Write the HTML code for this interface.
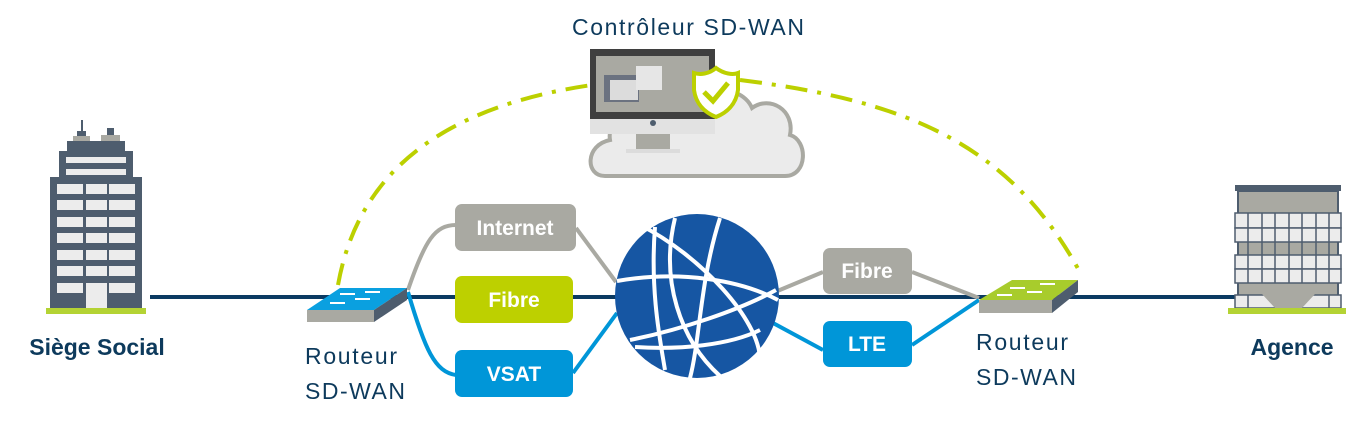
<!DOCTYPE html>
<html><head><meta charset="utf-8"><style>
html,body{margin:0;padding:0;background:#fff;width:1356px;height:426px;overflow:hidden}
svg{display:block}
text{font-family:"Liberation Sans","DejaVu Sans",sans-serif}
</style></head><body>
<svg width="1356" height="426" viewBox="0 0 1356 426">
<path d="M338,285 C355,190 420,110 592,85" fill="none" stroke="#bcd000" stroke-width="4" stroke-dasharray="22,10,4,10"/>
<path d="M740,80 C900,100 1010,140 1082,276" fill="none" stroke="#bcd000" stroke-width="4" stroke-dasharray="22,10,4,10"/>
<line x1="150" y1="297" x2="1236" y2="297" stroke="#0b3a62" stroke-width="4"/>
<path d="M408,290 C425,240 435,225 456,225" fill="none" stroke="#a9a9a2" stroke-width="4"/>
<path d="M408,292 C425,350 435,372 456,375" fill="none" stroke="#0096d8" stroke-width="4"/>
<line x1="576" y1="228" x2="616" y2="282" stroke="#a9a9a2" stroke-width="4"/>
<line x1="573" y1="373" x2="617" y2="313" stroke="#0096d8" stroke-width="4"/>
<line x1="775" y1="292" x2="823" y2="272" stroke="#a9a9a2" stroke-width="4"/>
<line x1="773" y1="323" x2="823" y2="350" stroke="#0096d8" stroke-width="4"/>
<line x1="912" y1="272" x2="979" y2="298" stroke="#a9a9a2" stroke-width="4"/>
<line x1="912" y1="345" x2="979" y2="300" stroke="#0096d8" stroke-width="4"/>
<rect x="455" y="204" width="121" height="47" rx="7" fill="#a9a9a2"/>
<text x="515" y="235" text-anchor="middle" font-size="21" font-weight="bold" fill="#fff">Internet</text>
<rect x="455" y="276" width="118" height="47" rx="7" fill="#bdd000"/>
<text x="514" y="307" text-anchor="middle" font-size="21" font-weight="bold" fill="#fff">Fibre</text>
<rect x="455" y="350" width="118" height="47" rx="7" fill="#0096d8"/>
<text x="514" y="381" text-anchor="middle" font-size="21" font-weight="bold" fill="#fff">VSAT</text>
<rect x="823" y="248" width="89" height="46" rx="7" fill="#a9a9a2"/>
<text x="867" y="278" text-anchor="middle" font-size="21" font-weight="bold" fill="#fff">Fibre</text>
<rect x="823" y="321" width="89" height="46" rx="7" fill="#0096d8"/>
<text x="867" y="351" text-anchor="middle" font-size="21" font-weight="bold" fill="#fff">LTE</text>
<circle cx="697" cy="296" r="82" fill="#1656a3"/>
<g fill="none" stroke="#fff" stroke-width="4">
<path d="M617,281 C680,270 740,280 778,300"/>
<path d="M640,225 C700,255 760,320 760,360"/>
<path d="M675,218 C660,280 680,340 720,376"/>
<path d="M655,227 C650,290 660,340 665,370"/>
<path d="M720,218 C700,280 700,340 690,378"/>
<path d="M630,340 C680,330 740,310 776,290"/>
<path d="M635,347 C680,350 730,345 760,330"/>
</g>
<rect x="81" y="120" width="2" height="20" fill="#4e5d6e"/>
<rect x="77" y="131" width="9" height="6" fill="#4e5d6e"/>
<rect x="107" y="128" width="7" height="8" fill="#4e5d6e"/>
<rect x="73" y="136" width="17" height="6" fill="#a9a9a2"/>
<rect x="101" y="135" width="19" height="7" fill="#a9a9a2"/>
<rect x="67" y="141" width="58" height="11" fill="#4e5d6e"/>
<rect x="59" y="151" width="74" height="27" fill="#4e5d6e"/>
<rect x="66" y="157" width="60" height="6" fill="#ececec"/>
<rect x="66" y="169" width="60" height="6" fill="#ececec"/>
<rect x="50" y="177" width="92" height="131" fill="#4e5d6e"/>
<g fill="#ececec">
<rect x="57" y="184" width="26" height="10"/><rect x="86" y="184" width="21" height="10"/><rect x="109" y="184" width="26" height="10"/>
<rect x="57" y="200" width="26" height="10"/><rect x="86" y="200" width="21" height="10"/><rect x="109" y="200" width="26" height="10"/>
<rect x="57" y="217" width="26" height="10"/><rect x="86" y="217" width="21" height="10"/><rect x="109" y="217" width="26" height="10"/>
<rect x="57" y="233" width="26" height="10"/><rect x="86" y="233" width="21" height="10"/><rect x="109" y="233" width="26" height="10"/>
<rect x="57" y="250" width="26" height="10"/><rect x="86" y="250" width="21" height="10"/><rect x="109" y="250" width="26" height="10"/>
<rect x="57" y="266" width="26" height="10"/><rect x="86" y="266" width="21" height="10"/><rect x="109" y="266" width="26" height="10"/>
<rect x="57" y="283" width="26" height="10"/><rect x="86" y="283" width="21" height="25"/><rect x="109" y="283" width="26" height="10"/>
</g>
<rect x="46" y="308" width="100" height="6" fill="#b4d334"/>
<text x="97" y="355" text-anchor="middle" font-size="23" font-weight="bold" fill="#0d3a5c">Siège Social</text>
<polygon points="307,310 340,288 407,288 374,310" fill="#0aa0e0"/>
<polygon points="307,310 374,310 374,322 307,322" fill="#a9a9a2"/>
<polygon points="374,310 407,288 407,300 374,322" fill="#4e5d6e"/>
<g stroke="#fff" stroke-width="2"><line x1="330" y1="303" x2="345" y2="303"/><line x1="355" y1="299" x2="370" y2="299"/><line x1="340" y1="294" x2="355" y2="294"/><line x1="365" y1="292" x2="380" y2="292"/></g>
<text x="305" y="364" font-size="23" fill="#0d3a5c" textLength="92">Routeur</text>
<text x="305" y="399" font-size="23" fill="#0d3a5c" textLength="100">SD-WAN</text>
<polygon points="979,300 1012,280 1078,280 1052,300" fill="#a8cc2c"/>
<polygon points="979,300 1052,300 1052,313 979,313" fill="#a9a9a2"/>
<polygon points="1052,300 1078,280 1078,292 1052,313" fill="#4e5d6e"/>
<g stroke="#fff" stroke-width="2"><line x1="997" y1="295" x2="1012" y2="295"/><line x1="1027" y1="292" x2="1042" y2="292"/><line x1="1010" y1="288" x2="1025" y2="288"/><line x1="1040" y1="284" x2="1055" y2="284"/></g>
<text x="976" y="350" font-size="23" fill="#0d3a5c" textLength="92">Routeur</text>
<text x="976" y="385" font-size="23" fill="#0d3a5c" textLength="100">SD-WAN</text>
<rect x="1235" y="185" width="106" height="6" fill="#4e5d6e"/>
<rect x="1238" y="191" width="100" height="117" fill="#a9a9a2" stroke="#4e5d6e" stroke-width="2"/>
<g fill="#ececec" stroke="#4e5d6e" stroke-width="1.5">
<rect x="1235" y="213" width="106" height="15"/><rect x="1235" y="228" width="106" height="14"/>
<rect x="1235" y="255" width="106" height="14"/><rect x="1235" y="269" width="106" height="14"/>
<rect x="1235" y="295" width="106" height="13"/>
</g>
<g stroke="#4e5d6e" stroke-width="1.5">
<line x1="1248" y1="213" x2="1248" y2="283"/><line x1="1262" y1="213" x2="1262" y2="283"/><line x1="1275" y1="213" x2="1275" y2="283"/><line x1="1289" y1="213" x2="1289" y2="283"/><line x1="1302" y1="213" x2="1302" y2="283"/><line x1="1316" y1="213" x2="1316" y2="283"/><line x1="1329" y1="213" x2="1329" y2="283"/>
<line x1="1248" y1="295" x2="1248" y2="308"/><line x1="1329" y1="295" x2="1329" y2="308"/>
</g>
<polygon points="1262,294 1315,294 1302,308 1275,308" fill="#a9a9a2"/>
<rect x="1228" y="308" width="118" height="6" fill="#b4d334"/>
<text x="1292" y="355" text-anchor="middle" font-size="23" font-weight="bold" fill="#0d3a5c">Agence</text>
<text x="688" y="35" text-anchor="middle" font-size="23" fill="#0d3a5c" textLength="232">Contrôleur SD-WAN</text>
<path d="M605,176 C585,176 585,145 610,140 C606,115 640,100 665,112 C680,82 740,80 752,108 C770,95 795,110 790,135 C808,140 808,176 785,176 Z" fill="#ebebeb" stroke="#a9a9a2" stroke-width="4"/>
<rect x="590" y="49" width="125" height="70" fill="#3f3f3f"/>
<rect x="596" y="56" width="113" height="56" fill="#a9a9a2"/>
<rect x="604" y="75" width="35" height="27" fill="#6b7280"/>
<rect x="610" y="80" width="28" height="20" fill="#dcdcdc"/>
<rect x="636" y="66" width="26" height="24" fill="#e6e6e6"/>
<rect x="590" y="119" width="125" height="15" fill="#e2e2e2"/>
<circle cx="653" cy="123" r="3" fill="#4e5d6e"/>
<rect x="636" y="134" width="34" height="15" fill="#a9a9a2"/>
<rect x="626" y="149" width="54" height="4" fill="#dcdcdc"/>
<path d="M716,68 C724,74 733,75 738,73 L738,90 C736,105 726,113 716,117 C706,113 696,105 694,90 L694,73 C700,75 709,74 716,68 Z" fill="#fff" stroke="#bcd000" stroke-width="4"/>
<path d="M704,92 L713,101 L728,83" fill="none" stroke="#bcd000" stroke-width="5"/>
</svg>
</body></html>
